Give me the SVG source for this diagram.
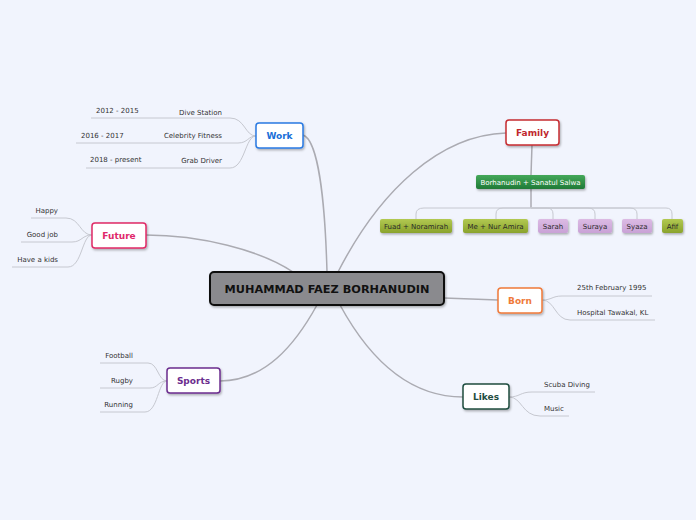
<svg xmlns="http://www.w3.org/2000/svg" width="696" height="520" viewBox="0 0 696 520">
<defs>
<filter id="sh" x="-20%" y="-20%" width="150%" height="160%">
<feDropShadow dx="1" dy="1.5" stdDeviation="0.8" flood-color="#000" flood-opacity="0.3"/>
</filter>
<linearGradient id="gGreen" x1="0" y1="0" x2="0" y2="1">
<stop offset="0" stop-color="#45a85a"/><stop offset="1" stop-color="#1f7a36"/>
</linearGradient>
<linearGradient id="gOlive" x1="0" y1="0" x2="0" y2="1">
<stop offset="0" stop-color="#b2c952"/><stop offset="1" stop-color="#8aa32c"/>
</linearGradient>
<linearGradient id="gPurple" x1="0" y1="0" x2="0" y2="1">
<stop offset="0" stop-color="#dcbbe4"/><stop offset="1" stop-color="#c9a2d6"/>
</linearGradient>
</defs>
<style>
text{font-family:"DejaVu Sans",Verdana,sans-serif;}
.s{font-size:7px;fill:#333;}
.lbl{font-size:9px;font-weight:bold;text-anchor:middle;}
.main{fill:none;stroke:#ababb2;stroke-width:1.5;}
.sub{fill:none;stroke:#c6c8d0;stroke-width:1;}
.box{fill:#fff;stroke-width:1.5;filter:url(#sh);}
.kid{font-size:7px;text-anchor:middle;fill:#2a2a2a;}
</style>
<rect width="696" height="520" fill="#f1f4fd"/>
<g id="connectors">
<path class="main" d="M303,135 C318,140 325,200 327,272"/>
<path class="main" d="M338,272 C380,190 440,135 506,133"/>
<path class="main" d="M146,235 C200,235 260,250 293,272"/>
<path class="main" d="M220,381 C265,381 295,345 317,305"/>
<path class="main" d="M444,298 L498,300"/>
<path class="main" d="M340,305 C370,360 410,397 463,397"/>
<path class="main" d="M532,145 L531,175"/>
<path class="main" d="M531,189 L531,208"/>
<path class="sub" d="M91,118 L230,118 C245,118 245,136 256,136"/>
<path class="sub" d="M76,143 L238,143 C248,143 248,136 256,136"/>
<path class="sub" d="M86,168 L230,168 C245,168 245,136 256,136"/>
<path class="sub" d="M31,218 L66,218 C80,218 80,235 92,235"/>
<path class="sub" d="M21,242 L72,242 C82,242 82,235 92,235"/>
<path class="sub" d="M12,267 L68,267 C82,267 82,235 92,235"/>
<path class="sub" d="M100,363 L148,363 C158,363 158,381 167,381"/>
<path class="sub" d="M100,388 L150,388 C158,388 158,381 167,381"/>
<path class="sub" d="M100,412 L145,412 C158,412 158,381 167,381"/>
<path class="sub" d="M542,300 C552,300 552,296 562,296 L652,296"/>
<path class="sub" d="M542,300 C555,300 555,320 570,320 L655,320"/>
<path class="sub" d="M509,397 C520,397 520,392 532,392 L595,392"/>
<path class="sub" d="M509,397 C522,397 522,416 540,416 L569,416"/>
<path class="sub" d="M531,208 L424,208 Q416,208 416,214 L416,219"/>
<path class="sub" d="M531,208 L503,208 Q496,208 496,214 L496,219"/>
<path class="sub" d="M531,208 L547,208 Q553,208 553,214 L553,219"/>
<path class="sub" d="M531,208 L588,208 Q595,208 595,214 L595,219"/>
<path class="sub" d="M531,208 L630,208 Q637,208 637,214 L637,219"/>
<path class="sub" d="M531,208 L666,208 Q672,208 672,214 L672,219"/>
</g>
<g id="central">
<rect x="210" y="272" width="234" height="33" rx="4" fill="#8a8a8e" stroke="#111" stroke-width="2" filter="url(#sh)"/>
<text x="327" y="293" font-size="11.3" font-weight="bold" text-anchor="middle" fill="#111">MUHAMMAD FAEZ BORHANUDIN</text>
</g>
<g id="work">
<rect class="box" x="256" y="123" width="47" height="25" rx="3" stroke="#2a7ae2"/>
<text class="lbl" x="279.5" y="139" fill="#1a6fd8">Work</text>
</g>
<g id="work-items">
<text class="s" x="96" y="112.5">2012 - 2015</text>
<text class="s" x="222" y="114.5" text-anchor="end">Dive Station</text>
<text class="s" x="81" y="138">2016 - 2017</text>
<text class="s" x="222" y="138" text-anchor="end">Celebrity Fitness</text>
<text class="s" x="90" y="161.5">2018 - present</text>
<text class="s" x="222" y="162.5" text-anchor="end">Grab Driver</text>
</g>
<g id="future">
<rect class="box" x="92" y="223" width="54" height="25" rx="3" stroke="#e02a66"/>
<text class="lbl" x="119" y="239" fill="#e0286a">Future</text>
</g>
<g id="future-items">
<text class="s" x="58" y="213" text-anchor="end">Happy</text>
<text class="s" x="58" y="237" text-anchor="end">Good job</text>
<text class="s" x="58" y="261.5" text-anchor="end">Have a kids</text>
</g>
<g id="sports">
<rect class="box" x="167" y="368" width="53" height="25" rx="3" stroke="#6b2d8e"/>
<text class="lbl" x="193.5" y="384" fill="#6b2d8e">Sports</text>
</g>
<g id="sports-items">
<text class="s" x="133" y="358" text-anchor="end">Football</text>
<text class="s" x="133" y="383" text-anchor="end">Rugby</text>
<text class="s" x="133" y="406.5" text-anchor="end">Running</text>
</g>
<g id="family">
<rect class="box" x="506" y="120" width="53" height="25" rx="3" stroke="#c62d32"/>
<text class="lbl" x="532.5" y="136" fill="#c0282e">Family</text>
</g>
<g id="parents">
<rect x="476" y="175" width="109" height="14" rx="2" fill="url(#gGreen)" filter="url(#sh)"/>
<text x="530.5" y="184.8" font-size="7" text-anchor="middle" fill="#fff">Borhanudin + Sanatul Salwa</text>
</g>
<g id="child-fuad">
<rect x="380" y="219" width="72" height="14" rx="2" fill="url(#gOlive)" filter="url(#sh)"/>
<text class="kid" x="416" y="228.8">Fuad + Noramirah</text>
</g>
<g id="child-me">
<rect x="463" y="219" width="65" height="14" rx="2" fill="url(#gOlive)" filter="url(#sh)"/>
<text class="kid" x="495.5" y="228.8">Me + Nur Amira</text>
</g>
<g id="child-sarah">
<rect x="538" y="219" width="30" height="14" rx="2" fill="url(#gPurple)" filter="url(#sh)"/>
<text class="kid" x="553" y="228.8">Sarah</text>
</g>
<g id="child-suraya">
<rect x="578" y="219" width="34" height="14" rx="2" fill="url(#gPurple)" filter="url(#sh)"/>
<text class="kid" x="595" y="228.8">Suraya</text>
</g>
<g id="child-syaza">
<rect x="622" y="219" width="30" height="14" rx="2" fill="url(#gPurple)" filter="url(#sh)"/>
<text class="kid" x="637" y="228.8">Syaza</text>
</g>
<g id="child-afif">
<rect x="662" y="219" width="21" height="14" rx="2" fill="url(#gOlive)" filter="url(#sh)"/>
<text class="kid" x="672.5" y="228.8">Afif</text>
</g>
<g id="born">
<rect class="box" x="498" y="288" width="44" height="25" rx="3" stroke="#f07a3a"/>
<text class="lbl" x="520" y="304" fill="#ef7a3a">Born</text>
</g>
<g id="born-items">
<text class="s" x="577" y="289.5">25th February 1995</text>
<text class="s" x="577" y="314.5">Hospital Tawakal, KL</text>
</g>
<g id="likes">
<rect class="box" x="463" y="384" width="46" height="25" rx="3" stroke="#1f4d3f"/>
<text class="lbl" x="486" y="400" fill="#1f4d3f">Likes</text>
</g>
<g id="likes-items">
<text class="s" x="544" y="386.5">Scuba Diving</text>
<text class="s" x="544" y="410.5">Music</text>
</g>
</svg>
